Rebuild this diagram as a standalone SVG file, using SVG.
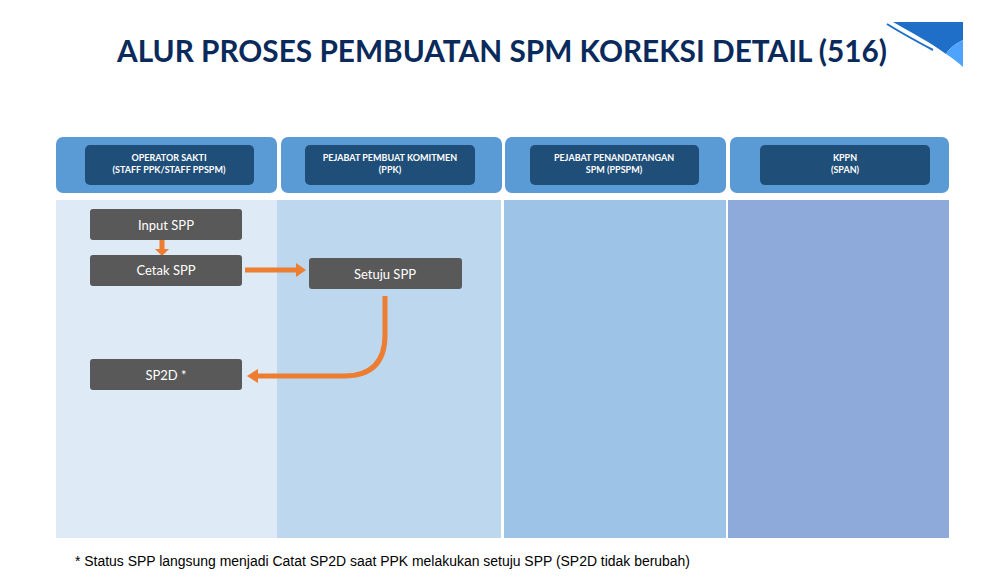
<svg xmlns="http://www.w3.org/2000/svg" width="982" height="579" viewBox="0 0 982 579">
<style>
.hdr{fill:#5b9bd5}
.hin{fill:#1f4e79}
.ht{font-family:Lato,"Open Sans",sans-serif;font-weight:bold;font-size:9px;fill:#ffffff;text-anchor:middle}
.box{fill:#595959}
.bt{font-family:Lato,"Open Sans",sans-serif;font-size:13px;fill:#ffffff;text-anchor:middle}
.ar{fill:none;stroke:#ed7d31;stroke-width:5}
</style>
<rect width="982" height="579" fill="#ffffff"/>
<g id="deco">
<path d="M893,22 L963,22 L963,40 C955,44 950,48 946,54 C930,42 912,33 893,22 Z" fill="#1f6fc9"/>
<path d="M946,54 C950,48 955,44 963,40 L963,67 C958,62 952,58 946,54 Z" fill="#4da3ff"/>
<path d="M887,24 C903,34 918,42 933,50" fill="none" stroke="#1f6fc9" stroke-width="2"/>
</g>
<text x="502" y="62" font-family="Lato,'Open Sans',sans-serif" font-weight="bold" font-size="30" fill="#0b2a5c" text-anchor="middle" textLength="770" lengthAdjust="spacingAndGlyphs">ALUR PROSES PEMBUATAN SPM KOREKSI DETAIL (516)</text>
<g id="lanes">
<rect x="56" y="200" width="221" height="338" fill="#deeaf6"/>
<rect x="277" y="200" width="224" height="338" fill="#bdd7ee"/>
<rect x="504" y="200" width="222" height="338" fill="#9dc3e6"/>
<rect x="728" y="200" width="221" height="338" fill="#8eaadb"/>
</g>
<g id="h1">
<rect class="hdr" x="56" y="137" width="221" height="56" rx="7"/>
<rect class="hin" x="85" y="145" width="169" height="40" rx="5"/>
<text class="ht" x="169" y="161">OPERATOR SAKTI</text>
<text class="ht" x="169" y="173">(STAFF PPK/STAFF PPSPM)</text>
</g>
<g id="h2">
<rect class="hdr" x="281" y="137" width="221" height="56" rx="7"/>
<rect class="hin" x="305" y="145" width="170" height="40" rx="5"/>
<text class="ht" x="390" y="161">PEJABAT PEMBUAT KOMITMEN</text>
<text class="ht" x="390" y="173">(PPK)</text>
</g>
<g id="h3">
<rect class="hdr" x="505" y="137" width="221" height="56" rx="7"/>
<rect class="hin" x="530" y="145" width="169" height="40" rx="5"/>
<text class="ht" x="614" y="161">PEJABAT PENANDATANGAN</text>
<text class="ht" x="614" y="173">SPM (PPSPM)</text>
</g>
<g id="h4">
<rect class="hdr" x="730" y="137" width="219" height="56" rx="7"/>
<rect class="hin" x="760" y="145" width="170" height="40" rx="5"/>
<text class="ht" x="845" y="161">KPPN</text>
<text class="ht" x="845" y="173">(SPAN)</text>
</g>
<g id="connectors">
<path d="M162,240 L162,250" fill="none" stroke="#ed7d31" stroke-width="5"/>
<path d="M155,249 L169,249 L162,256 Z" fill="#ed7d31"/>
<path d="M245,270 L297,270" class="ar"/>
<path d="M296,263 L306,270 L296,277 Z" fill="#ed7d31"/>
<path d="M385,296 L385,335 Q385,376 344,376 L258,376" class="ar"/>
<path d="M258,369 L247,376 L258,383 Z" fill="#ed7d31"/>
</g>
<g id="n1">
<rect class="box" x="90" y="209" width="152" height="31" rx="3"/>
<text class="bt" x="166" y="230">Input SPP</text>
</g>
<g id="n2">
<rect class="box" x="90" y="255" width="152" height="31" rx="3"/>
<text class="bt" x="166" y="275">Cetak SPP</text>
</g>
<g id="n3">
<rect class="box" x="309" y="258" width="153" height="31" rx="3"/>
<text class="bt" x="385" y="279">Setuju SPP</text>
</g>
<g id="n4">
<rect class="box" x="90" y="359" width="152" height="31" rx="3"/>
<text class="bt" x="166" y="380">SP2D *</text>
</g>
<text x="75" y="566" font-family="'Liberation Sans',Arial,sans-serif" font-size="14" fill="#000000" textLength="615" lengthAdjust="spacingAndGlyphs">* Status SPP langsung menjadi Catat SP2D saat PPK melakukan setuju SPP (SP2D tidak berubah)</text>
</svg>
